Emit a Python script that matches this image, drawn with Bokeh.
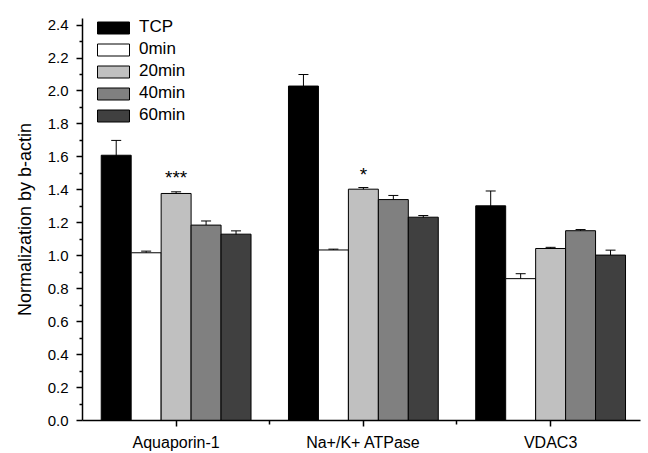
from bokeh.plotting import figure
from bokeh.models import (ColumnDataSource, Whisker, TeeHead, FixedTicker, Legend, LegendItem,
                          Range1d, NumeralTickFormatter)
from bokeh.core.properties import value
from bokeh.embed import file_html
from bokeh.resources import INLINE

categories = ["Aquaporin-1", "Na+/K+ ATPase", "VDAC3"]
series = ["TCP", "0min", "20min", "40min", "60min"]
colors = ["#000000", "#ffffff", "#c0c0c0", "#808080", "#404040"]

tcp = [1.61, 2.03, 1.303]
tcp_err = [0.09, 0.07, 0.09]
min0 = [1.018, 1.035, 0.861]
min0_err = [0.01, 0.005, 0.03]
min20 = [1.378, 1.404, 1.044]
min20_err = [0.01, 0.01, 0.007]
min40 = [1.186, 1.341, 1.152]
min40_err = [0.025, 0.025, 0.007]
min60 = [1.131, 1.234, 1.004]
min60_err = [0.02, 0.01, 0.03]

values = [tcp, min0, min20, min40, min60]
errors = [tcp_err, min0_err, min20_err, min40_err, min60_err]

sig_labels = ["***", "*"]
sig_group = [0, 1]
sig_y = [1.475, 1.495]

y_ticks = [0.0, 0.2, 0.4, 0.6, 0.8, 1.0, 1.2, 1.4, 1.6, 1.8, 2.0, 2.2, 2.4]
y_minor = [0.1, 0.3, 0.5, 0.7, 0.9, 1.1, 1.3, 1.5, 1.7, 1.9, 2.1, 2.3]

FONT = "Liberation Sans"
BAR_W = 0.16
offsets = [-0.32, -0.16, 0.0, 0.16, 0.32]

p = figure(width=648, height=453, output_backend="svg", toolbar_location=None,
           x_range=Range1d(0.5, 3.48), y_range=Range1d(0, 2.44),
           min_border_left=82, min_border_right=8, min_border_top=18, min_border_bottom=32)
p.outline_line_color = None
p.xgrid.visible = False
p.ygrid.visible = False
p.background_fill_color = "white"
p.border_fill_color = "white"

centers = [i + 1 for i in range(len(categories))]
legend_items = []
for s, col, vals, errs, off in zip(series, colors, values, errors, offsets):
    xs = [c + off for c in centers]
    src = ColumnDataSource(dict(x=xs, top=vals,
                                upper=[v + e for v, e in zip(vals, errs)],
                                lower=[v - e for v, e in zip(vals, errs)]))
    r = p.vbar(x="x", top="top", width=BAR_W, source=src, fill_color=col,
               line_color="black", line_width=1)
    legend_items.append(LegendItem(label=s, renderers=[r]))
    w = Whisker(base="x", upper="upper", lower="lower", source=src,
                line_color="black", line_width=1,
                upper_head=TeeHead(size=10, line_color="black", line_width=1),
                lower_head=TeeHead(size=10, line_color="black", line_width=1))
    p.add_layout(w)

sx = [centers[g] + offsets[2] for g in sig_group]
p.text(x=sx, y=sig_y, text=sig_labels, text_align="center", text_baseline="alphabetic",
       text_font=value(FONT), text_font_size="19px", text_color="black")

legend = Legend(items=legend_items, location=(11, 295), orientation="vertical",
                glyph_width=40, glyph_height=15, label_height=20, spacing=2,
                padding=0, margin=0, label_standoff=6,
                label_text_font=FONT, label_text_font_size="17px", label_text_color="black",
                border_line_color=None, background_fill_alpha=0)
p.add_layout(legend)

# y axis
p.yaxis.ticker = FixedTicker(ticks=y_ticks, minor_ticks=y_minor)
p.yaxis.formatter = NumeralTickFormatter(format="0.0")
p.yaxis.axis_label = "Normalization by b-actin"
p.yaxis.axis_label_text_font = FONT
p.yaxis.axis_label_text_font_size = "18px"
p.yaxis.axis_label_text_font_style = "normal"
p.yaxis.axis_label_text_color = "black"
p.yaxis.axis_label_standoff = 10
p.yaxis.major_label_text_font = FONT
p.yaxis.major_label_text_font_size = "15px"
p.yaxis.major_label_text_color = "black"
p.yaxis.major_tick_out = 6
p.yaxis.major_tick_in = 0
p.yaxis.minor_tick_out = 3
p.yaxis.minor_tick_in = 0
p.yaxis.axis_line_width = 1.5
p.yaxis.major_tick_line_width = 1.5
p.yaxis.minor_tick_line_width = 1.5
p.yaxis.major_label_standoff = 8

# x axis
p.xaxis.ticker = FixedTicker(ticks=centers, minor_ticks=[1.5, 2.5])
p.xaxis.major_label_overrides = {c: lab for c, lab in zip(centers, categories)}
p.xaxis.major_label_text_font = FONT
p.xaxis.major_label_text_font_size = "16px"
p.xaxis.major_label_text_color = "black"
p.xaxis.major_tick_out = 6
p.xaxis.major_tick_in = 0
p.xaxis.minor_tick_out = 4
p.xaxis.minor_tick_in = 0
p.xaxis.axis_line_width = 1.5
p.xaxis.major_tick_line_width = 1.5
p.xaxis.minor_tick_line_width = 1.5
p.xaxis.major_label_standoff = 7

open("out.html", "w").write(file_html(p, INLINE))
